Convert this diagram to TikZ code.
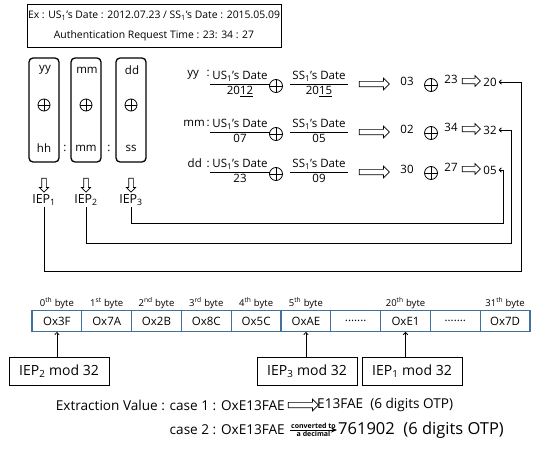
\documentclass[tikz,border=0pt]{standalone}
\usepackage{fontspec}
\setmainfont{Open Sans}
\usetikzlibrary{shapes.arrows,arrows.meta}

\definecolor{cellblue}{HTML}{41719C}

\newcommand{\datefrac}[2]{\renewcommand{\arraystretch}{1.15}\begin{tabular}{@{\hspace{2pt}}c@{\hspace{2pt}}}#1\textsubscript{1}'s Date\\\hline #2\end{tabular}}
\newcommand{\skipdots}{.......}

\tikzset{
  fieldbox/.style={draw, line width=1.3pt, rounded corners=4pt, minimum width=30, minimum height=104},
  xorsign/.style={circle, draw, line width=0.8pt, minimum size=#1, inner sep=0pt,
    path picture={\draw[line width=0.8pt] (path picture bounding box.north) -- (path picture bounding box.south)
      (path picture bounding box.west) -- (path picture bounding box.east);}},
  xorsign/.default=13,
  longarrow/.style={single arrow, draw, line width=0.7pt, inner xsep=0pt, inner ysep=2.3pt, minimum height=30, single arrow head extend=3.2pt},
  shortarrow/.style={single arrow, draw, line width=0.7pt, inner xsep=0pt, inner ysep=2.3pt, minimum height=18, single arrow head extend=2.6pt},
  hollowdown/.style={single arrow, draw, line width=0.7pt, inner xsep=2pt, inner ysep=2pt, minimum height=14, single arrow head extend=2.3pt, shape border rotate=270},
  ieplabel/.style={font=\fontsize{12.5}{14}\selectfont},
  link/.style={line width=0.8pt, -{To[length=3pt,width=5pt]}, shorten >=1pt},
  cellbox/.style={draw=cellblue, line width=1.1pt, minimum width=49.8, minimum height=21, inner sep=0pt, font=\fontsize{11.5}{13}\selectfont},
  bytelabel/.style={font=\fontsize{9.5}{11}\selectfont, inner sep=0.8pt},
  modbox/.style={draw, line width=0.9pt, minimum width=100, minimum height=28, font=\fontsize{14}{16}\selectfont},
  pick/.style={line width=0.8pt, -{To[length=3pt,width=5pt]}}
}

\begin{document}
\begin{tikzpicture}[x=1pt, y=-1pt, every node/.style={font=\fontsize{11.5}{13}\selectfont, inner sep=1pt}]
  \useasboundingbox (0,0) rectangle (537,452);

  % Top: example dates and request time
  \node[draw, line width=0.9pt, minimum width=254, minimum height=43, align=center, font=\fontsize{10.4}{20}\selectfont] (ex) at (154,26) {Ex : US\textsubscript{1}'s Date : 2012.07.23 / SS\textsubscript{1}'s Date : 2015.05.09\\Authentication Request Time : 23: 34 : 27};

  % Left: date and time fields
  \foreach \k/\x/\up/\dn in {1/44/yy/hh, 2/86/mm/mm, 3/131/dd/ss} {
    \node[fieldbox] (field\k) at (\x,110) {};
    \node (up\k) at (\x+1,70) {\up};
    \node[xorsign=12] (xor\k) at (\x,105) {};
    \node (dn\k) at (\x,148) {\dn};
    \node[hollowdown] (down\k) at (\x,184) {};
    \node[ieplabel] (iep\k) at (\x,200) {IEP\textsubscript{\k}};
  }
  \node (colon1) at (65,148) {:};
  \node (colon2) at (109,148) {:};

  % Right: XOR of the dates, then XOR with the time
  \foreach \k/\y/\lab/\da/\db/\va/\vb/\res in {1/84/yy~~/{20\underline{12}}/{20\underline{15}}/03/23/20, 2/132/mm/07/05/02/34/32, 3/172/dd~/23/09/30/27/05} {
    \node[anchor=east] (lab\k) at (211,\y-9) {\lab\,:};
    \node (fa\k) at (240,\y) {\datefrac{US}{\da}};
    \node[xorsign] (xa\k) at (276,\y+2) {};
    \node (fb\k) at (319,\y) {\datefrac{SS}{\db}};
    \node[longarrow] (imp\k) at (373,\y) {};
    \node (va\k) at (407,\y-3) {\va};
    \node[xorsign] (xb\k) at (431,\y+1) {};
    \node (vb\k) at (451,\y-5) {\vb};
    \node[shortarrow] (to\k) at (470,\y-3) {};
    \node (res\k) at (490,\y-2) {\res};
  }

  % IEP values back to the results
  \foreach \k/\bx/\by in {1/521/271, 2/511/243, 3/503/223} {
    \coordinate (bend\k) at (\bx,\by);
    \draw[link] (iep\k.south) |- (bend\k) |- (res\k.east);
  }

  % Bottom: 32-byte value
  \foreach \v [count=\i from 0] in {Ox3F, Ox7A, Ox2B, Ox8C, Ox5C, OxAE, \skipdots, OxE1, \skipdots, Ox7D}
    \node[cellbox] (cell\i) at ({56.9+49.8*\i},321) {\v};
  \foreach \i/\t in {0/0\textsuperscript{th}, 1/1\textsuperscript{st}, 2/2\textsuperscript{nd}, 3/3\textsuperscript{rd}, 4/4\textsuperscript{th}, 5/5\textsuperscript{th}, 7/20\textsuperscript{th}, 9/31\textsuperscript{th}}
    \node[bytelabel, anchor=south] (byte\i) at (cell\i.north) {\t\ byte};

  \node[modbox] (mod2) at (59,371) {IEP\textsubscript{2} mod 32};
  \node[modbox] (mod3) at (307,371) {IEP\textsubscript{3} mod 32};
  \node[modbox] (mod1) at (412,371) {IEP\textsubscript{1} mod 32};
  \draw[pick] (cell0.south |- mod2.north) -- (cell0.south);
  \draw[pick] (cell5.south |- mod3.north) -- (cell5.south);
  \draw[pick] (cell7.south |- mod1.north) -- (cell7.south);

  % Extracted OTP
  \node[anchor=east, font=\fontsize{13.6}{15}\selectfont] (case1) at (286,405) {Extraction Value : case 1 : OxE13FAE};
  \node[longarrow] (imp4) at (302,405) {};
  \node[anchor=west, font=\fontsize{13.6}{15}\selectfont] (otp1) at (316,405) {E13FAE~~(6 digits OTP)};
  \node[anchor=east, font=\fontsize{13.6}{15}\selectfont] (case2) at (286,430) {case 2 : OxE13FAE};
  \node[anchor=west, font=\fontsize{16.5}{18}\selectfont] (otp2) at (337,430) {761902~~(6 digits OTP)};
  \draw[line width=0.8pt, -{Stealth[length=6pt,width=5pt]}] (case2.east) ++(4,0) -- node[above, font=\bfseries\fontsize{7}{8}\selectfont] (conv) {converted to} node[below, font=\bfseries\fontsize{7}{8}\selectfont] (deci) {a decimal} (otp2.west);
\end{tikzpicture}
\end{document}
